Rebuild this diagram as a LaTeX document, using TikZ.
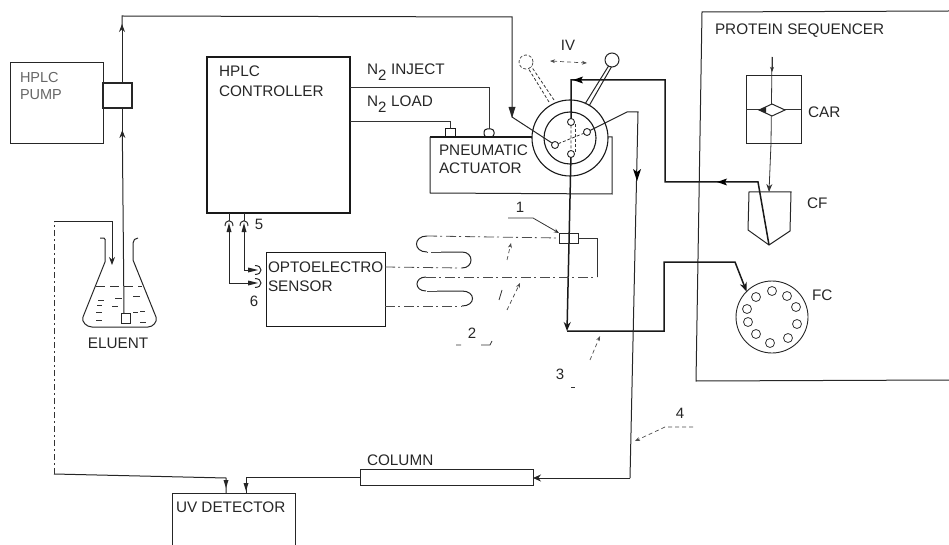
\documentclass[tikz,border=0pt]{standalone}
\usepackage{fontspec}
\setmainfont{Liberation Sans}
\usetikzlibrary{arrows.meta}
\tikzset{
 x=1pt,y=-1pt,
 every node/.style={inner sep=0pt,outer sep=0pt},
 line/.style={line width=1pt,draw=black!85},
 heavy/.style={line width=1.5pt,draw=black!90},
 thin line/.style={line width=0.8pt,draw=black!80},
 faint/.style={line width=0.8pt,draw=black!70,dash pattern=on 10pt off 3pt on 2pt off 4pt},
 dash lead/.style={line width=0.7pt,draw=black!70,dash pattern=on 4pt off 3pt},
 tag/.style={font=\fontsize{15.3}{18}\selectfont,text=black!85,anchor=base west},
 num/.style={font=\fontsize{15}{17}\selectfont,text=black!85},
 tip/.style={-{Stealth[length=8pt,width=6pt]}},
}
\begin{document}
\begin{tikzpicture}
\useasboundingbox (0,0) rectangle (949,545);
% HPLC pump
\node[draw=black!85,line width=1pt,minimum width=93pt,minimum height=81pt,anchor=north west] (pump) at (10,63) {};
\node[tag,text=black!60,align=left,anchor=north west,font=\fontsize{14.5}{17}\selectfont] (pumpt) at (20,72) {HPLC\\PUMP};
\node[draw=black!85,line width=1.2pt,minimum width=29pt,minimum height=25pt,anchor=north west] (pumphead) at (103,83) {};
% flask
\draw[line] (100,238) -- (104,238) to[out=0,in=90] (105,243) -- (105,262) -- (83,317) to[out=-110,in=180] (92,327) -- (148,327) to[out=0,in=-70] (156,317) -- (133,260) -- (133,243) to[out=90,in=180] (138,238);
\draw[thin line,dash pattern=on 9pt off 5pt] (96,286) -- (142,286);
\foreach \a/\b/\c in {98/104/300,115/122/298,133/140/296,96/102/312,112/118/306,133/138/312,96/102/320,140/145/311,140/146/322,97/102/305}{\draw[thin line] (\a,\c) -- (\b,\c);}
\node[draw=black!85,line width=0.9pt,minimum width=9pt,minimum height=10pt,anchor=north west] (filter) at (121,313) {};
\node[tag,anchor=center] (eluent) at (118,343) {ELUENT};
% main tube
\coordinate (toptee) at (122,16);
\coordinate (valvein) at (512,17);
\coordinate (valvebend) at (512,117);
\coordinate (pumpbot) at (122,108);
\coordinate (pumptop) at (122,83);
\draw[line,tip] (124,313) -- (122.3,130);
\draw[line] (122,132) -- (pumpbot);
\draw[line,tip] (pumptop) -- (122,24);
\draw[line] (122,26) -- (toptee) -- (valvein) -- (valvebend);
\fill[black!85] (512,118) -- (508.5,107) -- (515.5,107) -- cycle;
% HPLC controller
\node[draw=black!90,line width=1.1pt,minimum width=143pt,minimum height=156pt,anchor=north west] (ctrl) at (207,57) {};
\node[tag,align=left,anchor=north west] (ctrlt) at (219,66) {HPLC\\[2pt]CONTROLLER};
% Pneumatic actuator
\coordinate (actTL) at (430,137);
\coordinate (actTR) at (533,137);
\coordinate (actR) at (612,137);
\coordinate (actBR) at (612,194);
\coordinate (actBL) at (430,193);
\draw[heavy] (actTL) -- (actTR);
\draw[line] (actTL) -- (actBL) -- (actBR) -- (actR) -- (608,137);
\node[tag,align=left,anchor=north west] (actt) at (439,145) {PNEUMATIC\\ACTUATOR};
\node[draw=black!90,line width=1pt,minimum width=10pt,minimum height=8pt,anchor=south] (k1) at (450,137) {};
\node[draw=black!90,line width=1pt,minimum width=10pt,minimum height=8pt,anchor=south,rounded corners=3pt] (k2) at (489,137) {};
\coordinate (a1) at (489,87);
\coordinate (a2) at (450,121);
\draw[thin line] (ctrl.east|-a1) -- (a1) -- (k2.north);
\draw[thin line] (ctrl.east|-a2) -- (a2) -- (k1.north);
\node[tag,anchor=base west] (inj) at (367,75) {N\textsubscript{\fontsize{15}{15}\selectfont 2} INJECT};
\node[tag,anchor=base west] (load) at (367,107) {N\textsubscript{\fontsize{15}{15}\selectfont 2} LOAD};
% valve
\node[draw=black!90,fill=white,line width=1.1pt,circle,minimum size=76pt] (vo) at (570,138) {};
\node[draw=black!90,line width=1.1pt,circle,minimum size=52pt] (vi) at (570,138) {};
\node[draw=black!85,line width=0.9pt,circle,minimum size=7pt] (pa) at (571,122) {};
\node[draw=black!85,line width=0.9pt,circle,minimum size=7pt] (pb) at (555,145) {};
\node[draw=black!85,line width=0.9pt,circle,minimum size=7pt] (pc) at (587,132) {};
\node[draw=black!85,line width=0.9pt,circle,minimum size=7pt] (pd) at (571,154) {};
\draw[thin line,densely dashed] (pa) -- (pd) (pb) -- (pc);
\draw[thin line,densely dashed] (575,124) -- (575,152);
\draw[line] (valvebend) -- (pb);
% handles
\node[draw=black!85,line width=1pt,circle,minimum size=14pt] (ballr) at (612,60) {};
\node[draw=black!70,line width=0.8pt,circle,densely dashed,minimum size=14pt] (balll) at (526,62) {};
\draw[line] (585,104) -- (ballr.240);
\draw[line] (589,106) -- (ballr.265);
\draw[thin line,densely dashed] (549,102) -- (balll.290);
\draw[thin line,densely dashed] (554,100) -- (balll.320);
\node[num,anchor=center] (iv) at (568,45) {IV};
\coordinate (ivl) at (550,61);
\coordinate (ivr) at (587,63);
\draw[dash lead,{Stealth[length=5pt]}-{Stealth[length=5pt]}] (ivl) -- (ivr);
% Sequencer
\coordinate (seqTL) at (702,12);
\coordinate (seqTR) at (949,11);
\coordinate (seqBL) at (696,381);
\coordinate (seqBR) at (949,380);
\draw[line] (seqTR) -- (seqTL) -- (seqBL) -- (seqBR);
\node[tag,anchor=base west] (seqt) at (715,35) {PROTEIN SEQUENCER};
% CAR
\node[draw=black!85,line width=0.9pt,minimum width=55pt,minimum height=68pt,anchor=north west] (car) at (746,75) {};
\coordinate (cartop) at (772,57);
\coordinate (carbot) at (771,143);
\draw[thin line] (car.west) -- (car.east);
\draw[thin line] (cartop) -- (carbot);
\draw[thin line,-{Stealth[length=5pt,width=4pt]}] (cartop) -- (772,72);
\draw[line,fill=white] (759,110) -- (772,104) -- (785,110) -- (772,116) -- cycle;
\fill[black!85] (759,110) -- (766,107) -- (766,113) -- cycle;
\node[tag,anchor=base west] (cart) at (808,118) {CAR};
% CF
\coordinate (cfin) at (769,192);
\draw[line] (749,192) -- (791,192) -- (790,231) -- (769,245) -- (748,230) -- cycle;
\draw[thin line,tip] (carbot) -- (cfin);
\node[tag,anchor=base west] (cft) at (807,208) {CF};
% FC
\node[draw=black!85,line width=0.9pt,circle,minimum size=72pt] (fc) at (772,317) {};
\foreach \p in {(756,297),(772,291),(787,296),(796,307),(797,324),(788,338),(770,343),(756,334),(748,322),(747,309)}{\draw[thin line] \p circle (4.5);}
\node[tag,anchor=base west] (fct) at (812,300) {FC};
% return from CF to valve
\coordinate (c0) at (769,245);
\coordinate (c1) at (758,182);
\coordinate (c2) at (665,182);
\coordinate (c3) at (665,80);
\coordinate (c4) at (571,80);
\draw[heavy] (c0) -- (c1) -- (c2) -- (c3) -- (c4) -- (pa);
\fill[black] (573,80) -- (583,76.5) -- (581,80) -- (583,83.5) -- cycle;
\fill[black] (717,182) -- (727,178.5) -- (725,182) -- (727,185.5) -- cycle;
% valve down
\coordinate (vd) at (567,331);
\coordinate (e1) at (664,331);
\coordinate (e2) at (664,262);
\coordinate (e3) at (735,262);
\draw[heavy,-{Stealth[length=9pt,width=7pt]}] (pd) -- (vd);
\draw[heavy,-{Stealth[length=9pt,width=7pt]}] (vd) -- (e1) -- (e2) -- (e3) -- (fc.135);
% column
\node[draw=black!85,line width=0.9pt,minimum width=173pt,minimum height=16pt,anchor=north west] (column) at (360,469) {};
\node[tag,anchor=base west] (colt) at (367,465) {COLUMN};
% right port to column
\coordinate (r1) at (627,112);
\coordinate (r2) at (638,112);
\coordinate (r3) at (630,478);
\draw[line] (pc) -- (r1) -- (r2) -- (r3);
\fill[black] (637,181) -- (633,169) -- (637,172) -- (641,169) -- cycle;
\draw[line,-{Stealth[length=8pt,width=7pt]}] (r3) -- (column.east|-r3);
% UV detector
\coordinate (uvBL) at (172,545);
\coordinate (uvTL) at (172,493);
\coordinate (uvTR) at (295,493);
\coordinate (uvBR) at (295,545);
\draw[line] (uvBL) -- (uvTL) -- (uvTR) -- (uvBR);
\node[tag,anchor=base west] (uvt) at (176,512) {UV DETECTOR};
\coordinate (l0) at (112,265);
\coordinate (l1) at (112,222);
\coordinate (l2) at (54,222);
\coordinate (l3) at (54,474);
\coordinate (l4) at (226,478);
\coordinate (l5) at (226,493);
\draw[line] (l5) -- (l4) -- (l3);
\fill[black!85] (226,488) -- (223.5,480) -- (228.5,480) -- cycle;
\draw[thin line,dash pattern=on 6pt off 3pt on 2pt off 3pt] (l3) -- (l2);
\draw[line,tip] (l2) -- (l1) -- (l0);
\coordinate (m0) at (246,477);
\coordinate (m1) at (246,493);
\draw[line] (column.west) -- (m0) -- (m1);
\fill[black!85] (246,491) -- (243.5,483) -- (248.5,483) -- cycle;
% sensor
\node[draw=black!90,line width=1pt,minimum width=119pt,minimum height=74pt,anchor=north west] (opto) at (266,252) {};
\node[tag,align=left,anchor=north west] (optot) at (268,262) {OPTOELECTRO\\[1pt]SENSOR};
\coordinate (s1) at (244,213);
\coordinate (s2) at (229,213);
\coordinate (s3) at (244,270);
\coordinate (s4) at (229,283);
\coordinate (s5) at (254,270);
\coordinate (s6) at (254,283);
\draw[line] (s1) -- (s3) -- (s5);
\draw[line] (s2) -- (s4) -- (s6);
\foreach \q in {244,229}{
 \draw[line,fill=white] (\q-4,226) .. controls (\q-4,219) and (\q+4,219) .. (\q+4,226);
 \fill[black!85] (\q,223) -- (\q-2.5,232) -- (\q+2.5,232) -- cycle;}
\foreach \q in {270,283}{
 \draw[line,fill=white] (255,\q-4.5) .. controls (263,\q-4.5) and (263,\q+4.5) .. (255,\q+4.5);
 \fill[black!85] (258,\q) -- (248,\q-2.5) -- (248,\q+2.5) -- cycle;}
\node[num,anchor=center] (n5) at (259,224) {5};
\node[num,anchor=center] (n6) at (254,301) {6};
% coils
\node[draw=black!85,line width=0.9pt,minimum width=19pt,minimum height=10pt,anchor=north west] (cell) at (559,233) {};
\coordinate (h1) at (597,238);
\coordinate (h2) at (597,277);
\draw[thin line] (cell.east) -- (h1) -- (h2);
\coordinate (o1) at (385,267);
\coordinate (o2) at (385,306);
\draw[faint] (o1) -- (462,268);
\draw[line] (462,268) .. controls (474,268) and (474,252) .. (462,252) -- (441,252);
\draw[faint] (441,252) -- (427,252);
\draw[line] (427,252) .. controls (413,252) and (413,236) .. (427,236);
\draw[faint] (427,236) -- (cell.west);
\draw[faint] (o2) -- (462,306);
\draw[line] (462,306) .. controls (476,306) and (476,291) .. (462,291) -- (437,291);
\draw[faint] (437,291) -- (426,291);
\draw[line] (426,291) .. controls (414,291) and (414,277) .. (426,277);
\draw[faint] (426,277) -- (h2);
% leaders
\node[num,anchor=center] (n1) at (520,207) {1};
\coordinate (ld1) at (508,218);
\coordinate (ld2) at (533,218);
\draw[thin line,-{Stealth[length=5pt,width=4pt]}] (ld1) -- (ld2) -- (cell.north west);
\coordinate (d1) at (507,260);\coordinate (d2) at (511,243);
\coordinate (d3) at (507,310);\coordinate (d4) at (520,283);
\coordinate (d5) at (499,300);\coordinate (d6) at (502,290);
\draw[dash lead,-{Stealth[length=5pt,width=4pt]}] (d1) -- (d2);
\draw[dash lead,-{Stealth[length=5pt,width=4pt]}] (d3) -- (d4);
\draw[thin line] (d5) -- (d6);
\node[num,anchor=center] (n2) at (472,333) {2};
\coordinate (b1) at (456,345);\coordinate (b2) at (461,345);
\coordinate (b3) at (481,345);\coordinate (b4) at (490,345);\coordinate (b5) at (492,341);
\draw[thin line] (b1) -- (b2) (b3) -- (b4) -- (b5);
\node[num,anchor=center] (n3) at (560,374) {3};
\coordinate (t1) at (590,360);\coordinate (t2) at (600,336);
\draw[dash lead,-{Stealth[length=5pt,width=4pt]}] (t1) -- (t2);
\coordinate (b6) at (571,387);\coordinate (b7) at (575,387);
\draw[thin line] (b6) -- (b7);
\node[num,anchor=center] (n4) at (680,413) {4};
\coordinate (f1) at (693,427);\coordinate (f2) at (665,427);\coordinate (f3) at (635,441);
\draw[dash lead,-{Stealth[length=5pt,width=4pt]}] (f1) -- (f2) -- (f3);
\end{tikzpicture}
\end{document}
